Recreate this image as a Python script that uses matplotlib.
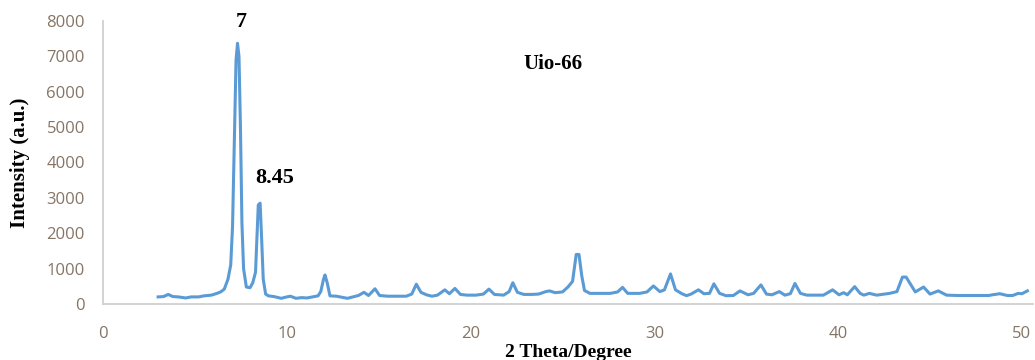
import matplotlib
matplotlib.use('Agg')
import matplotlib.pyplot as plt

# XRD pattern of Uio-66
two_theta = [3.0, 3.3, 3.55, 3.8, 4.1, 4.5, 4.8, 5.2, 5.5, 5.9, 6.2, 6.4, 6.6, 6.8, 6.95,
             7.05, 7.15, 7.24, 7.32, 7.4, 7.48, 7.56, 7.65, 7.8, 8.0, 8.15, 8.3, 8.38, 8.45,
             8.55, 8.62, 8.72, 8.85, 9.0, 9.3, 9.7, 10.0, 10.2, 10.5, 10.8, 11.1, 11.4,
             11.7, 11.85, 12.0, 12.08, 12.2, 12.35, 12.7, 13.0, 13.3, 13.6, 13.9, 14.2,
             14.45, 14.8, 15.05, 15.5, 16.0, 16.5, 16.8, 17.05, 17.3, 17.6, 17.9, 18.2,
             18.6, 18.85, 19.15, 19.45, 19.8, 20.3, 20.7, 21.0, 21.3, 21.8, 22.1, 22.3,
             22.55, 22.9, 23.3, 23.7, 24.1, 24.3, 24.6, 25.0, 25.3, 25.55, 25.75, 25.9,
             26.05, 26.2, 26.5, 27.0, 27.6, 28.0, 28.27, 28.55, 29.2, 29.6, 29.95, 30.3,
             30.55, 30.88, 31.15, 31.5, 31.75, 32.0, 32.4, 32.7, 33.0, 33.24, 33.55, 33.9,
             34.3, 34.66, 35.1, 35.4, 35.8, 36.1, 36.4, 36.8, 37.1, 37.4, 37.65, 37.95,
             38.3, 39.2, 39.7, 40.05, 40.3, 40.5, 40.9, 41.2, 41.4, 41.7, 42.1, 42.8,
             43.2, 43.5, 43.7, 43.95, 44.2, 44.65, 45.0, 45.45, 45.9, 46.5, 48.2, 48.4,
             48.8, 49.2, 49.5, 49.8, 50.0, 50.3]
intensity = [200, 210, 270, 210, 200, 170, 200, 200, 230, 250, 300, 340, 420, 700, 1100,
             2200, 4600, 6900, 7370, 7000, 5000, 2300, 1000, 480, 460, 600, 900, 1900, 2800,
             2850, 2000, 700, 280, 230, 210, 160, 200, 220, 160, 180, 170, 200,
             230, 350, 700, 820, 600, 230, 220, 190, 160, 200, 240, 330,
             240, 430, 240, 220, 220, 220, 280, 560, 330, 260, 220, 250,
             400, 290, 440, 270, 250, 250, 280, 420, 270, 250, 350, 600,
             330, 270, 270, 280, 350, 370, 320, 340, 480, 640, 1400, 1400,
             800, 380, 300, 300, 300, 340, 470, 300, 300, 340, 510, 350,
             400, 850, 400, 290, 235, 280, 400, 290, 300, 570, 300, 235,
             240, 370, 260, 300, 540, 280, 260, 350, 250, 290, 580, 300,
             250, 250, 400, 260, 320, 260, 490, 300, 250, 300, 250, 300,
             350, 760, 760, 550, 340, 480, 280, 370, 250, 240, 240, 260,
             290, 240, 240, 300, 290, 370]

x_ticks = [0, 10, 20, 30, 40, 50]
y_ticks = [0, 1000, 2000, 3000, 4000, 5000, 6000, 7000, 8000]

serif = 'Liberation Serif'
tick_color = '#857565'

fig = plt.figure(figsize=(10.35, 3.6), dpi=100)
ax = fig.add_axes([0.0995, 0.1556, 0.8985, 0.7861])
ax.plot(two_theta, intensity, color='#5B9BD5', linewidth=2.2, clip_on=False,
        solid_joinstyle='round')

ax.set_xlim(0, 50.6)
ax.set_ylim(0, 8000)
ax.set_xticks(x_ticks)
ax.set_yticks(y_ticks)
ax.tick_params(length=0, labelsize=12, colors=tick_color, pad=13)
ax.tick_params(axis='x', pad=16)
for lab in ax.get_xticklabels() + ax.get_yticklabels():
    lab.set_family('Open Sans')

for side in ['top', 'right']:
    ax.spines[side].set_visible(False)
for side in ['left', 'bottom']:
    ax.spines[side].set_color('#d0d0d0')
    ax.spines[side].set_linewidth(1.3)

ax.set_xlabel('2 Theta/Degree', family=serif, fontweight='bold', fontsize=14, labelpad=1)
ax.set_ylabel('Intensity (a.u.)', family=serif, fontweight='bold', fontsize=15, labelpad=12)

ax.text(7.54, 7980, '7', family=serif, fontweight='bold', fontsize=16,
        ha='center', va='center')
ax.text(9.36, 3560, '8.45', family=serif, fontweight='bold', fontsize=16,
        ha='center', va='center')
ax.text(24.5, 6780, 'Uio-66', family=serif, fontweight='bold', fontsize=15,
        ha='center', va='center')

fig.savefig('out.png', dpi=100)
